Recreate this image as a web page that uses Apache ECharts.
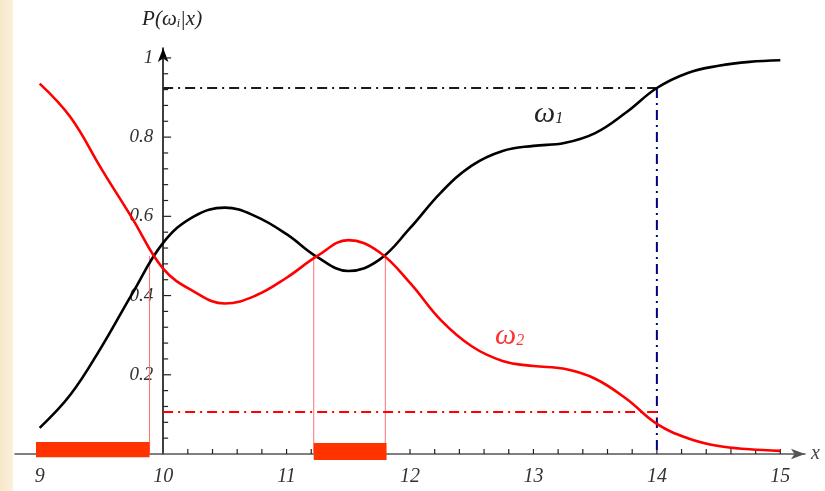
<!DOCTYPE html>
<html><head><meta charset="utf-8">
<script src="https://cdn.jsdelivr.net/npm/echarts@6/dist/echarts.min.js"></script>
<style>html,body{margin:0;padding:0;background:#fff}#c{width:825px;height:491px}</style>
</head><body><div id="c"></div>
<script>
// ---- data ----
const xValues = [9, 9.25, 9.5, 9.75, 10, 10.25, 10.5, 10.75, 11, 11.25, 11.5, 11.75, 12, 12.25, 12.5, 12.75, 13, 13.25, 13.5, 13.75, 14, 14.25, 14.5, 14.75, 15];
const omega1 = [0.066, 0.15, 0.27, 0.405, 0.533, 0.60, 0.622, 0.60, 0.555, 0.497, 0.462, 0.49, 0.57, 0.66, 0.728, 0.765, 0.778, 0.785, 0.81, 0.862, 0.924, 0.962, 0.98, 0.99, 0.994];
const omega2 = [0.935, 0.85, 0.72, 0.595, 0.468, 0.41, 0.38, 0.40, 0.445, 0.50, 0.54, 0.51, 0.432, 0.338, 0.272, 0.235, 0.222, 0.215, 0.19, 0.14, 0.076, 0.04, 0.02, 0.012, 0.008];
const xTickLabels = [9, 10, 11, 12, 13, 14, 15];
const yTickLabels = [0.2, 0.4, 0.6, 0.8, 1];
const crossingsX = [9.89, 11.22, 11.8];
const crossingY = 0.5;
const decisionBands = [[8.97, 9.89, 0.03, -0.008], [11.22, 11.81, 0.028, -0.015]];
const thresholdX = 14;
const thresholdHigh = 0.924;
const thresholdLow = 0.106;
const xRange = [8.8, 15.2];
const yRange = [0, 1.025];
const xTickStep = 0.2;
const yTickStep = 0.04;
const X0 = 10; // where the vertical axis crosses

// ---- build ----
const sx = v => v - X0;
const near = (a, b) => Math.abs(a - b) < 1e-6;
const serif = '"Liberation Serif","DejaVu Serif",serif';
const dashDot = [10, 5, 2, 5];

const gridLeft = 15, gridRight = 20;
const gridW = 825 - gridLeft - gridRight;
const yAxisOffset = -(X0 - xRange[0]) / (xRange[1] - xRange[0]) * gridW;

const xTickVals = [];
for (let i = 0; i <= 30; i++) { const v = +(9 + i * xTickStep).toFixed(2); if (!near(v, X0)) xTickVals.push(v); }
const yTickVals = [];
for (let i = 1; i <= 25; i++) yTickVals.push(+(i * yTickStep).toFixed(2));

const series = [
  {type:'line', data: xValues.map((x,i)=>[sx(x), omega1[i]]), smooth:0.4, symbol:'none',
   lineStyle:{color:'#000', width:2.6}, z:5},
  {type:'line', data: xValues.map((x,i)=>[sx(x), omega2[i]]), smooth:0.4, symbol:'none',
   lineStyle:{color:'#ff0000', width:2.6}, z:5},
  {type:'line', data:[[sx(X0), thresholdHigh],[sx(thresholdX), thresholdHigh]], symbol:'none',
   lineStyle:{color:'#1a1a1a', width:1.8, type:dashDot}, z:3},
  {type:'line', data:[[sx(thresholdX), thresholdHigh],[sx(thresholdX), 0]], symbol:'none',
   lineStyle:{color:'#000080', width:2, type:dashDot}, z:3},
  {type:'line', data:[[sx(X0), thresholdLow],[sx(thresholdX), thresholdLow],[sx(thresholdX), thresholdLow-0.015]], symbol:'none',
   lineStyle:{color:'#ff0000', width:2, type:dashDot}, z:3}
];
crossingsX.forEach(cx => series.push({type:'line', data:[[sx(cx), crossingY],[sx(cx), 0]], symbol:'none',
  lineStyle:{color:'#ff7070', width:1}, z:2}));
// axis ticks (pointing inward), placed through the axes' own scales
series.push({type:'custom', clip:false, z:4, silent:true,
  data: xTickVals.map(v=>[sx(v), 0]),
  encode:{x:0, y:1},
  renderItem:(params, api) => {
    const p = api.coord([api.value(0), api.value(1)]);
    return {type:'line', shape:{x1:p[0], y1:p[1], x2:p[0], y2:p[1]-5}, style:{stroke:'#222', lineWidth:1.2, fill:null}};
  }});
series.push({type:'custom', clip:false, z:4, silent:true,
  data: yTickVals.map(v=>[sx(X0), v]),
  encode:{x:0, y:1},
  renderItem:(params, api) => {
    const p = api.coord([api.value(0), api.value(1)]);
    const len = yTickLabels.some(t => near(t, api.value(1))) ? 8 : 5;
    return {type:'line', shape:{x1:p[0], y1:p[1], x2:p[0]+len, y2:p[1]}, style:{stroke:'#222', lineWidth:1.2, fill:null}};
  }});
series.push({type:'custom', clip:false, z:6,
  data: decisionBands.map(b=>[sx(b[0]), sx(b[1]), b[2], b[3]]),
  encode:{x:[0,1], y:[2,3]},
  renderItem:(params, api) => {
    const p0 = api.coord([api.value(0), api.value(2)]);
    const p1 = api.coord([api.value(1), api.value(3)]);
    return {type:'rect', shape:{x:p0[0], y:p0[1], width:p1[0]-p0[0], height:p1[1]-p0[1]}, style:{fill:'#ff3300'}};
  }});

const option = {
  animation:false,
  backgroundColor:'#ffffff',
  grid:{left:gridLeft, right:gridRight, top:48, bottom:37, containLabel:false, outerBoundsMode:'none'},
  xAxis:{type:'value', min:sx(xRange[0]), max:sx(xRange[1]), interval:xTickStep,
    splitLine:{show:false},
    axisLine:{show:true, onZero:false, lineStyle:{color:'#555', width:1.5}, symbol:['none','arrow'], symbolSize:[8,14]},
    axisTick:{show:false},
    axisLabel:{show:true, hideOverlap:false,
      formatter:v=>{ const r = Math.round(v); return (near(v, r) && xTickLabels.includes(r + X0)) ? String(r + X0) : ''; },
      fontFamily:serif, fontStyle:'italic', fontSize:20, color:'#333', margin:13},
    name:'x', nameLocation:'end', nameGap:6,
    nameTextStyle:{fontFamily:serif, fontStyle:'italic', fontSize:20, color:'#444'}
  },
  yAxis:{type:'value', min:yRange[0], max:yRange[1], interval:yTickStep, position:'left', offset:yAxisOffset,
    splitLine:{show:false},
    axisLine:{show:true, onZero:false, lineStyle:{color:'#000', width:1.5}, symbol:['none','arrow'], symbolSize:[8,14]},
    axisTick:{show:false},
    axisLabel:{show:true, hideOverlap:false,
      formatter:v=>{ const hit = yTickLabels.find(t => near(t, v)); return hit === undefined ? '' : (hit === 1 ? '1' : hit.toFixed(1)); },
      fontFamily:serif, fontStyle:'italic', fontSize:19, color:'#333', margin:10},
    name:'{m|P(ω}{s|i}{m||x)}', nameLocation:'end', nameGap:18,
    nameTextStyle:{align:'center', padding:[0,0,0,18],
      rich:{m:{fontFamily:serif, fontStyle:'italic', fontSize:21, color:'#222'},
            s:{fontFamily:serif, fontStyle:'italic', fontSize:12, color:'#222', verticalAlign:'bottom', padding:[8,0,0,0]}}}
  },
  graphic:[
    {type:'rect', left:0, top:0, z:-1, shape:{width:13, height:491},
     style:{fill:{type:'linear', x:0, y:0, x2:1, y2:0, colorStops:[{offset:0,color:'#f6e7c8'},{offset:1,color:'#faf1de'}]}}},
    {type:'text', left:534, top:99, z:100,
     style:{text:'{w|ω}{s|1}', rich:{w:{fontFamily:serif, fontStyle:'italic', fontSize:30, fill:'#222'},
       s:{fontFamily:serif, fontStyle:'italic', fontSize:16, fill:'#222', padding:[10,0,0,0]}}}},
    {type:'text', left:495, top:321, z:100,
     style:{text:'{w|ω}{s|2}', rich:{w:{fontFamily:serif, fontStyle:'italic', fontSize:30, fill:'#ff3030'},
       s:{fontFamily:serif, fontStyle:'italic', fontSize:16, fill:'#ff3030', padding:[10,0,0,0]}}}}
  ],
  series: series
};
const chart = echarts.init(document.getElementById('c'), null, {renderer:'canvas'});
chart.setOption(option);
</script></body></html>
